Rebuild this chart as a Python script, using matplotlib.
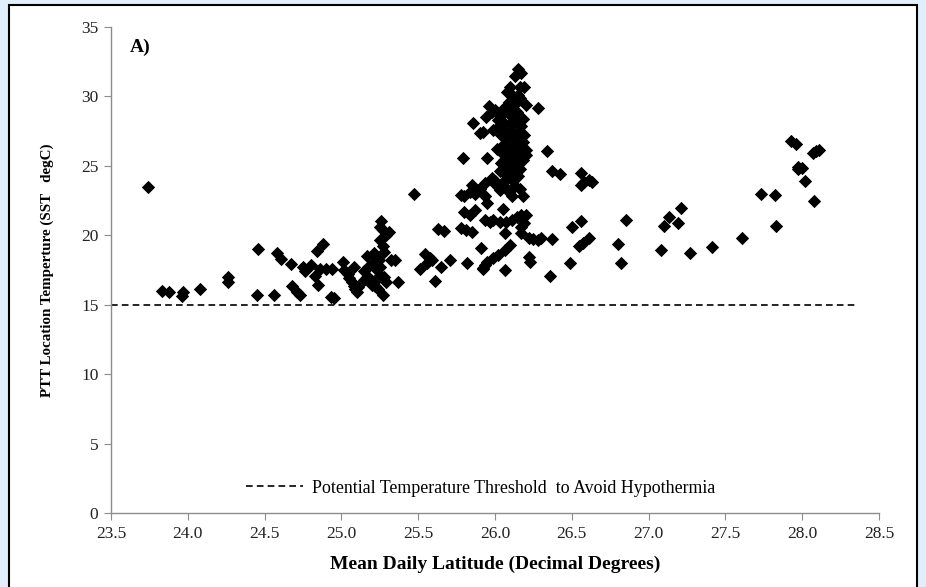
import matplotlib
matplotlib.use("Agg")
import matplotlib.pyplot as plt
from matplotlib.patches import Rectangle

# mean daily latitude (decimal degrees) and SST at PTT locations (degC)
lat_left = [23.74, 23.83, 23.88, 23.97, 23.96, 24.08, 24.26, 24.26, 24.46, 24.45,
            24.56, 24.58, 24.61, 24.67, 24.68, 24.71, 24.73, 24.75, 24.76, 24.80,
            24.83, 24.84, 24.85, 24.88, 24.86, 24.90, 24.94, 24.93, 24.95, 25.01,
            25.02, 25.04, 25.05, 25.07, 25.08, 25.09, 25.10, 25.08, 25.11, 25.15,
            25.17, 25.165, 25.19, 25.20, 25.21, 25.225, 25.21, 25.165, 25.24, 25.27,
            25.25, 25.23, 25.26, 25.25, 25.27, 25.29, 25.31, 25.25, 25.27, 25.28,
            25.245, 25.25, 25.32, 25.28, 25.29, 25.21, 25.22, 25.18, 25.15, 25.37,
            25.35]
sst_left = [23.45, 16.0, 15.9, 15.9, 15.65, 16.1, 17.0, 16.6, 19.0, 15.7,
            15.7, 18.75, 18.3, 17.95, 16.35, 15.9, 15.7, 17.7, 17.45, 17.85,
            17.05, 18.85, 16.4, 19.4, 17.6, 17.6, 17.6, 15.55, 15.45, 18.1,
            17.5, 17.2, 16.9, 16.6, 16.35, 16.1, 15.9, 17.75, 16.3, 17.4,
            17.75, 17.0, 16.8, 16.45, 18.05, 18.45, 18.7, 18.5, 16.1, 15.7,
            17.15, 17.5, 21.0, 20.6, 20.4, 20.0, 20.25, 19.65, 19.2, 18.8,
            18.2, 17.7, 18.25, 17.0, 16.65, 16.6, 16.35, 16.9, 16.75, 16.65,
            18.2]

lat_mid = [25.47, 25.51, 25.545, 25.575, 25.555, 25.59, 25.61, 25.65, 25.63, 25.67,
           25.71, 25.78, 25.80, 25.84, 25.85, 25.87, 25.90, 25.80, 25.84, 25.87,
           25.78, 25.81, 25.85, 25.82, 25.79, 25.86, 25.90, 25.94, 25.92, 25.96,
           25.95, 25.98, 26.00, 25.91, 25.92, 25.935, 25.95, 25.89, 25.935, 26.00,
           26.03, 26.065, 26.09, 26.11, 26.13, 26.16, 26.18, 26.05, 25.935, 25.97,
           25.99, 26.03, 26.07, 26.11, 26.14, 26.17, 26.20, 26.19, 26.17, 26.17,
           26.22, 26.25, 26.28, 26.30, 26.37, 26.065, 26.10, 26.065, 26.02, 25.99,
           25.95, 25.935, 25.92, 26.065, 26.22, 26.23, 26.36, 26.37, 26.42, 26.34,
           26.28, 26.20, 26.20, 26.18]
sst_mid = [23.0, 17.6, 18.65, 18.4, 18.0, 18.2, 16.7, 17.75, 20.45, 20.3,
           18.2, 22.9, 22.8, 23.15, 23.65, 23.0, 23.3, 21.7, 21.45, 21.8,
           20.5, 20.4, 20.25, 18.0, 25.6, 28.1, 27.4, 28.55, 27.45, 29.3,
           25.55, 24.1, 23.9, 19.05, 17.65, 22.8, 22.35, 23.25, 23.75, 23.7,
           23.25, 23.5, 23.1, 22.8, 23.55, 23.3, 22.8, 21.9, 21.1, 20.95,
           21.1, 20.95, 20.95, 21.1, 21.35, 21.45, 21.45, 20.85, 20.6, 20.15,
           19.8, 19.75, 19.65, 19.8, 19.7, 20.15, 19.3, 18.95, 18.6, 18.35,
           18.1, 17.85, 17.6, 17.5, 18.45, 18.1, 17.05, 24.6, 24.4, 26.05,
           29.2, 25.8, 26.15, 25.45]

lat_peak = [26.15, 26.13, 26.17, 26.10, 26.16, 26.19, 26.11, 26.15, 26.09, 26.14,
            26.20, 26.00, 26.05, 26.09, 26.14, 26.18, 26.02, 26.06, 26.10, 26.13,
            26.17, 25.99, 26.04, 26.08, 26.11, 26.12, 26.14, 26.05, 26.09, 26.13,
            26.18, 26.07, 26.10, 26.14, 26.17, 26.13, 26.10, 26.16, 26.04, 26.08,
            26.12, 26.15, 26.03, 26.06, 26.08, 26.12, 26.16, 26.02, 26.05, 26.09,
            26.12, 26.07, 26.11, 26.15, 26.06, 26.09, 26.13, 25.98, 26.01, 26.04,
            26.07, 26.10, 26.13, 26.16, 26.19, 26.03, 26.06, 26.12]
sst_peak = [31.95, 31.45, 31.7, 30.7, 30.7, 30.7, 30.1, 30.1, 29.6, 29.6,
            29.4, 29.0, 28.8, 28.7, 28.85, 28.4, 28.3, 28.1, 28.0, 28.25,
            27.9, 27.6, 27.2, 27.0, 27.0, 27.5, 26.8, 26.5, 26.3, 26.5,
            26.7, 25.9, 25.6, 25.3, 25.6, 24.9, 24.7, 24.75, 25.2, 24.3,
            24.1, 24.3, 28.6, 29.2, 30.3, 29.1, 29.9, 27.8, 27.6, 27.4,
            28.6, 26.9, 26.1, 27.3, 25.4, 25.0, 25.8, 28.9, 26.2, 26.0,
            24.8, 24.2, 24.5, 26.2, 27.2, 24.6, 23.9, 23.9]

lat_right = [26.56, 26.58, 26.61, 26.63, 26.56, 26.50, 26.56, 26.55, 26.575, 26.61,
             26.49, 26.80, 26.85, 26.82, 27.08, 27.10, 27.13, 27.19, 27.21, 27.27,
             27.41, 27.61, 27.73, 27.82, 27.83, 27.925, 27.96, 27.97, 28.00, 27.975,
             28.02, 28.08, 28.07, 28.09, 28.11]
sst_right = [24.45, 23.85, 24.0, 23.85, 23.65, 20.6, 21.0, 19.2, 19.45, 19.8,
             18.0, 19.4, 21.1, 18.0, 18.95, 20.7, 21.3, 20.85, 21.95, 18.7,
             19.15, 19.8, 23.0, 22.9, 20.7, 26.8, 26.6, 24.95, 24.85, 24.75,
             23.9, 22.5, 25.9, 26.1, 26.15]

lat = lat_left + lat_mid + lat_peak + lat_right
sst = sst_left + sst_mid + sst_peak + sst_right

threshold = 15
threshold_x = [23.5, 28.36]
threshold_label = "Potential Temperature Threshold  to Avoid Hypothermia"

plt.rcParams['font.family'] = ['Liberation Serif', 'DejaVu Serif']

fig = plt.figure(figsize=(9.26, 5.87), dpi=100)
fig.patch.set_facecolor('#e1eefb')
# white panel with black frame
fig.add_artist(Rectangle((9 / 926, -0.05), 908 / 926, 1.05 - 5 / 587,
                         transform=fig.transFigure, facecolor='white',
                         edgecolor='black', linewidth=1.5, zorder=-1))

ax = fig.add_axes([111 / 926, 1 - 513 / 587, 768 / 926, 486 / 587])
ax.set_facecolor('none')

ax.scatter(lat, sst, marker='D', s=46, color='black', linewidths=0, zorder=3)
ax.plot(threshold_x, [threshold, threshold], color='black', lw=1.2,
        linestyle=(0, (4, 2.5)), label=threshold_label)

ax.set_xlim(23.5, 28.5)
ax.set_ylim(0, 35)
ax.set_xticks([23.5 + 0.5 * i for i in range(11)])
ax.set_xticklabels([f"{23.5 + 0.5 * i:.1f}" for i in range(11)])
ax.set_yticks(range(0, 36, 5))

for s in ['top', 'right']:
    ax.spines[s].set_visible(False)
for s in ['left', 'bottom']:
    ax.spines[s].set_color('#8c8c8c')
    ax.spines[s].set_linewidth(1)
ax.tick_params(direction='out', length=5, color='#8c8c8c', labelsize=12.5,
               labelcolor='#222222', pad=4)

ax.set_xlabel("Mean Daily Latitude (Decimal Degrees)", fontsize=14,
              fontweight='bold', labelpad=10)
ax.set_ylabel("PTT Location Temperture (SST   degC)", fontsize=10.8,
              fontweight='bold')
ax.yaxis.set_label_coords(-0.074, 0.5)

ax.text(23.62, 33.5, "A)", fontsize=14, fontweight='bold', va='center')

ax.legend(loc='center', bbox_to_anchor=(0.481, 0.051), frameon=False,
          fontsize=12.9, handlelength=3.2, handletextpad=0.5)

fig.savefig("out.png", dpi=100, facecolor=fig.get_facecolor())
